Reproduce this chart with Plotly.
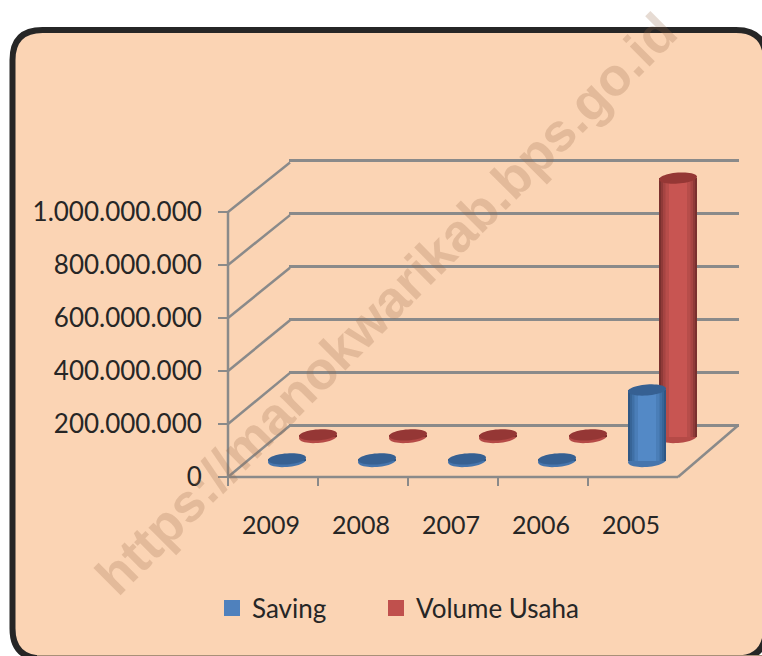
import math
import plotly.graph_objects as go

years = ["2009", "2008", "2007", "2006", "2005"]
saving = [8e6, 8e6, 8e6, 8e6, 268e6]
volume_usaha = [8e6, 8e6, 8e6, 8e6, 977e6]
tick_values = [0, 2e8, 4e8, 6e8, 8e8, 1e9]
tick_labels = ["0", "200.000.000", "400.000.000", "600.000.000", "800.000.000", "1.000.000.000"]

W, H = 762, 656
PX_PER_UNIT = 265 / 1e9
LOW, HIGH = -1e8, 1.1e9
FONT = "Lato"
TEXT = "#262626"
GRID = "#8A8A8A"
PANEL = "#FBD4B4"

def px(x): return x / W
def py(y): return 1 - y / H

def plane(left, base):
    """x domain and y domain of a plane whose zero line sits at pixel y=base."""
    top = base - HIGH * PX_PER_UNIT
    bottom = base - LOW * PX_PER_UNIT
    return [px(left), px(left + 450)], [py(bottom), py(top)]

def ellipse(rx, ry, tilt):
    pts = []
    for i in range(48):
        t = 2 * math.pi * i / 48
        x = rx * math.cos(t)
        y = ry * math.sin(t) + tilt * x
        pts.append(f"{x:.2f},{y:.2f}")
    return "M " + " L ".join(pts) + " Z"

fig = go.Figure()

def cylinders(name, values, n, edge_shades, top_color, bottom_color):
    xa, ya = f"x{n}", f"y{n}"
    for w, c in edge_shades:
        fig.add_bar(x=years, y=values, width=w / 90, marker=dict(color=c, line_width=0),
                    xaxis=xa, yaxis=ya, showlegend=False, name=name, hoverinfo="skip")
    for i, v in enumerate(values):
        fig.add_shape(type="path", path=ellipse(19, 6, 0.07), xref=xa, yref=ya,
                      xsizemode="pixel", ysizemode="pixel", xanchor=i, yanchor=0,
                      fillcolor=bottom_color, line_width=0, layer="below")
        fig.add_shape(type="path", path=ellipse(19, 5.5, 0.07), xref=xa, yref=ya,
                      xsizemode="pixel", ysizemode="pixel", xanchor=i, yanchor=v,
                      fillcolor=top_color, line_width=0, layer="above")

red_shades = [(38, "#7A302E"), (34, "#8F3A38"), (30, "#A54442"), (25, "#B74D4A"), (18, "#C85552")]
blue_shades = [(38, "#2F5785"), (34, "#376597"), (30, "#3F70A6"), (25, "#4A7EB8"), (18, "#5389C6")]

fig.add_scatter(x=years, y=[0] * 5, xaxis="x", yaxis="y", mode="none", showlegend=False, hoverinfo="skip")
cylinders("Volume Usaha", volume_usaha, 2, red_shades, "#953735", "#B54A47")
cylinders("Saving", saving, 3, blue_shades, "#366092", "#4675AD")
fig.add_scatter(x=years, y=[0] * 5, xaxis="x4", yaxis="y4", mode="none", showlegend=False, hoverinfo="skip")

fig.add_scatter(x=[None], y=[None], name="Saving", mode="markers", xaxis="x4", yaxis="y4", legend="legend",
                showlegend=True, marker=dict(symbol="square", size=16, color="#4F81BD"))
fig.add_scatter(x=[None], y=[None], name="Volume Usaha", mode="markers", xaxis="x4", yaxis="y4", legend="legend2",
                showlegend=True, marker=dict(symbol="square", size=16, color="#C0504D"))

hidden = dict(visible=False, showgrid=False, zeroline=False)
cat_hidden = dict(hidden, type="category", categoryorder="array", categoryarray=years, range=[-0.5, 4.5])

d_back = plane(289, 425.5)
d_vol = plane(273, 437)
d_sav = plane(242, 461)
d_front = plane(228, 477)

legend_style = dict(orientation="h", y=py(608), yanchor="middle", xanchor="left",
                    bgcolor="rgba(0,0,0,0)", itemclick=False, font=dict(family=FONT, size=26, color=TEXT))

fig.update_layout(
    width=W, height=H, autosize=False, margin=dict(l=0, r=0, t=0, b=0),
    paper_bgcolor="white", plot_bgcolor="rgba(0,0,0,0)", barmode="overlay",
    font=dict(family=FONT, color=TEXT, size=25),
    xaxis=dict(cat_hidden, domain=[px(289), px(739)]),
    yaxis=dict(domain=d_back[1], range=[LOW, HIGH], tickvals=tick_values, showgrid=True, gridcolor=GRID,
               gridwidth=2.5, zeroline=False, showticklabels=False, ticks="", showline=False),
    xaxis2=dict(cat_hidden, domain=d_vol[0]),
    yaxis2=dict(hidden, domain=d_vol[1], range=[LOW, HIGH], anchor="x2"),
    xaxis3=dict(cat_hidden, domain=d_sav[0]),
    yaxis3=dict(hidden, domain=d_sav[1], range=[LOW, HIGH], anchor="x3"),
    xaxis4=dict(type="category", categoryorder="array", categoryarray=years, domain=d_front[0],
                range=[-0.5, 4.5], tickson="boundaries", ticks="outside", ticklen=8, tickwidth=2, tickcolor=GRID,
                showline=False, showgrid=False, zeroline=False, anchor="free", position=py(477),
                ticklabelstandoff=31, ticklabelshift=-2, tickfont=dict(family=FONT, size=25, color=TEXT)),
    yaxis4=dict(domain=[py(477 + 100e6 * PX_PER_UNIT), py(477 - HIGH * PX_PER_UNIT)], range=[LOW, HIGH],
                tickvals=tick_values, ticktext=tick_labels, anchor="free", position=px(228),
                ticks="outside", ticklen=10, tickwidth=2, tickcolor=GRID, showgrid=False, zeroline=False,
                showline=False, ticklabelstandoff=11, tickfont=dict(family=FONT, size=26, color=TEXT)),
    legend=dict(legend_style, x=px(212)),
    legend2=dict(legend_style, x=px(376)),
    annotations=[dict(text="<b>https://manokwarikab.bps.go.id</b>", xref="paper", yref="paper",
                      x=px(386), y=py(303), showarrow=False, textangle=-45,
                      font=dict(family="Liberation Sans", size=53, color="rgba(150,105,70,0.24)"))],
)

r = 30
L, T, R, B = px(12.5), py(30), px(766), py(658.5)
rx, ry = r / W, r / H
panel = (f"M{L+rx},{T} L{R-rx},{T} Q{R},{T} {R},{T-ry} L{R},{B+ry} Q{R},{B} {R-rx},{B} "
         f"L{L+rx},{B} Q{L},{B} {L},{B+ry} L{L},{T-ry} Q{L},{T} {L+rx},{T} Z")
fig.add_shape(type="path", path=panel, xref="paper", yref="paper", fillcolor=PANEL,
              line=dict(color="#262626", width=6), layer="below")
fig.add_shape(type="line", xref="paper", yref="paper", x0=px(37), y0=py(655.5), x1=1, y1=py(655.5),
              line=dict(color="#A89078", width=1), layer="below")

def seg(x0, y0, x1, y1):
    fig.add_shape(type="line", xref="paper", yref="paper", x0=px(x0), y0=py(y0), x1=px(x1), y1=py(y1),
                  line=dict(color=GRID, width=2.5), layer="below")

for v in tick_values:
    seg(228, 477 - v * PX_PER_UNIT, 290, 425.5 - v * (263 / 1e9))
seg(228, 212, 228, 477)
seg(228, 477, 678, 477)
seg(678, 477, 738, 425.5)

fig.write_html("out.html", config=dict(displayModeBar=False),
               post_script="document.body.style.margin='0';document.body.style.overflow='hidden';")
